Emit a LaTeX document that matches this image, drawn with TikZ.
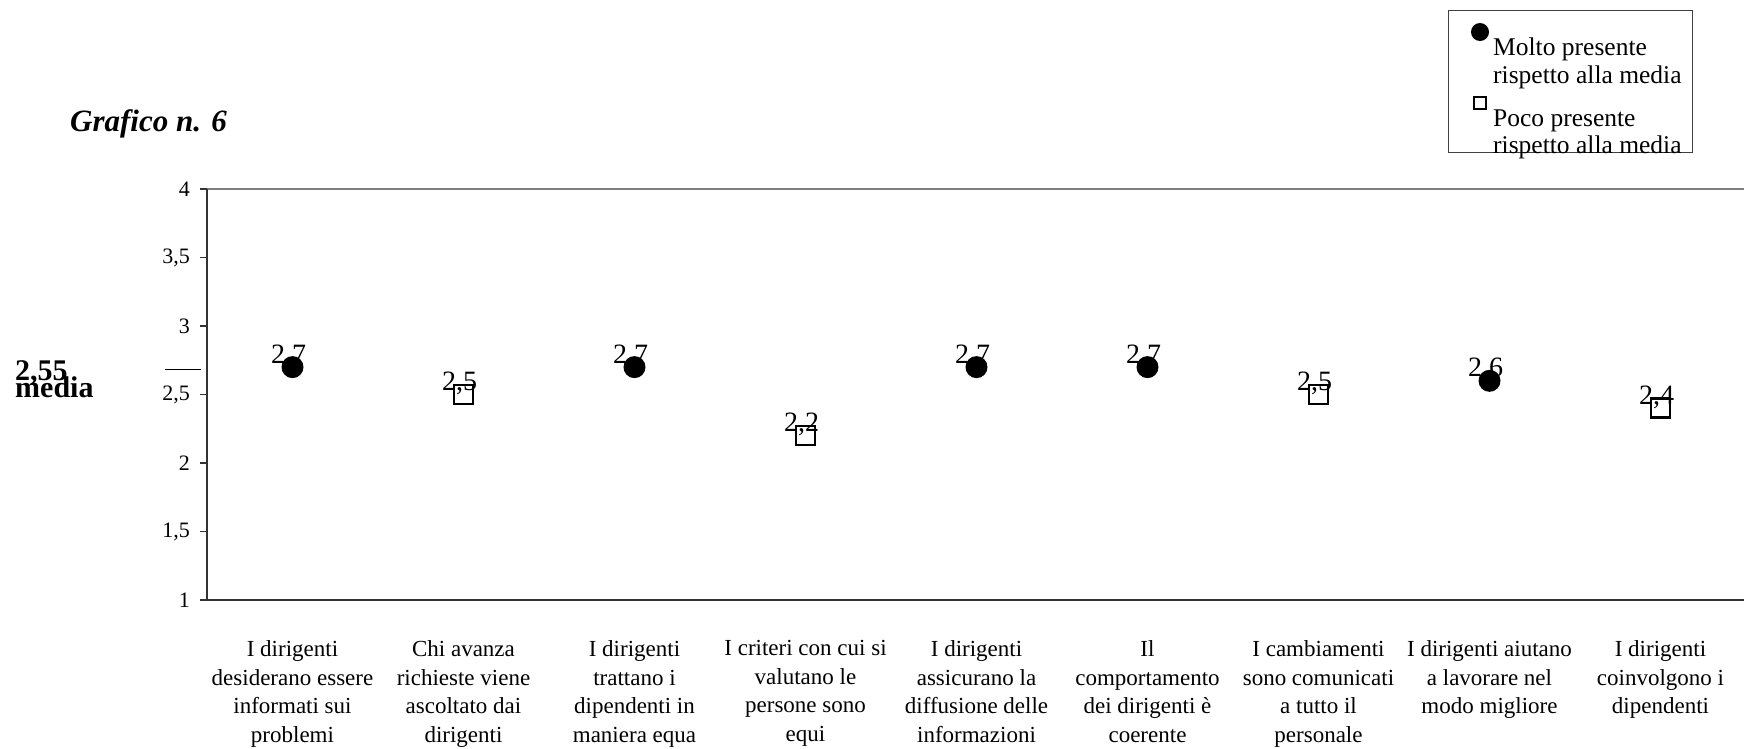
\documentclass[tikz,border=0pt]{standalone}
\usepackage{fontspec}
\setmainfont{Liberation Serif}
\begin{document}
\begin{tikzpicture}[x=1pt,y=-1pt,
	catlabel/.style={anchor=north,align=center,inner sep=0pt,font=\fontsize{23}{28.6}\selectfont},
	ticklabel/.style={anchor=east,inner sep=0pt,font=\fontsize{22}{26}\selectfont},
	vallabel/.style={anchor=base,inner sep=0pt,font=\fontsize{28}{32}\selectfont},
	legtext/.style={anchor=base west,inner sep=0pt,font=\fontsize{25.5}{28}\selectfont},
	molto/.style={circle,fill=black,minimum size=22pt,inner sep=0pt},
	poco/.style={draw=black,line width=2.5pt,minimum size=19pt,inner sep=0pt}]
	
	\useasboundingbox (0,0) rectangle (1744,748);
	\def\xo{207}
	\def\yo{600}
	\def\dx{171}
	\def\dy{137}
	\def\xmax{1744}
	% assi
	\draw[line width=2pt,color=gray] (200,\yo-3*\dy)--(\xmax,\yo-3*\dy);
	\draw[line width=2pt,color=black!80] (\xo,\yo-3*\dy)--(\xo,\yo+1) (200,\yo)--(\xmax,\yo);
	\foreach \v/\t in {1/1,1.5/{1,5},2/2,2.5/{2,5},3/3,3.5/{3,5},4/4}{
		\draw[line width=1.5pt,color=black!80] (200,{\yo-(\v-1)*\dy})--(\xo,{\yo-(\v-1)*\dy});
		\node[ticklabel] (tick\v) at (190,{\yo-(\v-1)*\dy}) {\t};
	}
	% media
	\draw[line width=1.5pt] (165,369.3)--(201,369.3);
	\node[anchor=base west,inner sep=0pt,font=\fontsize{30}{30}\selectfont\bfseries] (media) at (15,380) {2,55};
	\node[anchor=base west,inner sep=0pt,font=\fontsize{30}{30}\selectfont\bfseries] (medialab) at (15,397) {media};
	% titolo
	\node[anchor=base west,inner sep=0pt,font=\fontsize{31}{31}\selectfont\bfseries\itshape] (titolo) at (70,131.7) {Grafico n. 6};
	% punti
	\foreach \v/\t/\s [count=\i] in {2.7/{2,7}/molto,2.5/{2,5}/poco,2.7/{2,7}/molto,2.2/{2,2}/poco,2.7/{2,7}/molto,2.7/{2,7}/molto,2.5/{2,5}/poco,2.6/{2,6}/molto,2.4/{2,4}/poco}{
		\node[vallabel] (val\i) at ({\xo+(\i-0.5)*\dx-4},{\yo-(\v-1)*\dy-4}) {\t};
		\node[\s] (pt\i) at ({\xo+(\i-0.5)*\dx},{\yo-(\v-1)*\dy}) {};
	}
	% categorie
	\foreach \t [count=\i] in {{I dirigenti\\desiderano essere\\informati sui\\problemi},
		{Chi avanza\\richieste viene\\ascoltato dai\\dirigenti},
		{I dirigenti\\trattano i\\dipendenti in\\maniera equa},
		{I criteri con cui si\\valutano le\\persone sono\\equi},
		{I dirigenti\\assicurano la\\diffusione delle\\informazioni},
		{Il\\comportamento\\dei dirigenti è\\coerente},
		{I cambiamenti\\sono comunicati\\a tutto il\\personale},
		{I dirigenti aiutano\\a lavorare nel\\modo migliore},
		{I dirigenti\\coinvolgono i\\dipendenti}}
		\node[catlabel] (cat\i) at ({\xo+(\i-0.5)*\dx},640.3) {\t};
	% legenda
	\draw[line width=1pt,color=black!75] (1448,10) rectangle (1692,152);
	\node[circle,fill=black,minimum size=18pt,inner sep=0pt] (legmolto) at (1480,32) {};
	\node[draw=black,line width=2pt,minimum size=12pt,inner sep=0pt] (legpoco) at (1479.5,103) {};
	\node[legtext] (leg1) at (1493,55.7) {Molto presente};
	\node[legtext] (leg2) at (1493,83.3) {rispetto alla media};
	\node[legtext] (leg3) at (1493,126.7) {Poco presente};
	\node[legtext] (leg4) at (1493,153.5) {rispetto alla media};
	
\end{tikzpicture}
\end{document}
